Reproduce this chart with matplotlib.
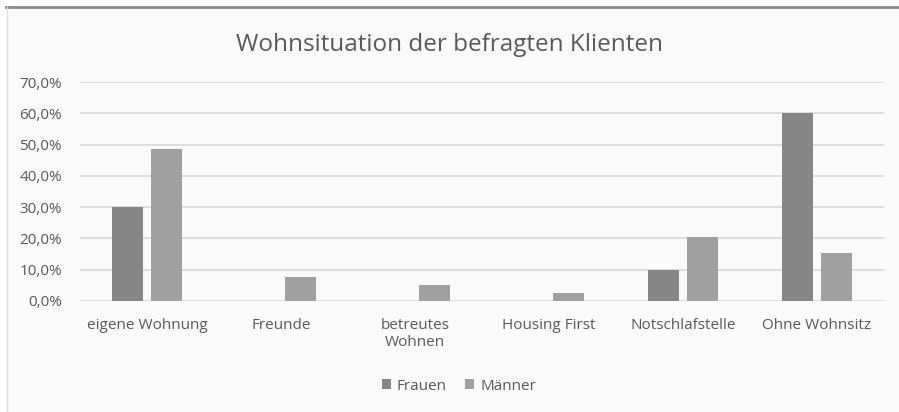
import matplotlib
matplotlib.use("Agg")
import matplotlib.pyplot as plt
import numpy as np
from matplotlib.patches import Rectangle
from matplotlib.lines import Line2D

# Daten aus dem Diagramm (Anteile in %)
kategorien = ["eigene Wohnung", "Freunde", "betreutes\nWohnen", "Housing First",
              "Notschlafstelle", "Ohne Wohnsitz"]
frauen = [30.0, 0.0, 0.0, 0.0, 10.0, 60.0]
maenner = [48.7, 7.7, 5.1, 2.6, 20.5, 15.4]
y_ticks = [0, 10, 20, 30, 40, 50, 60, 70]

TEXT = "#595959"
plt.rcParams["font.family"] = ["Open Sans", "DejaVu Sans"]

fig = plt.figure(figsize=(8.99, 4.12), dpi=100)
fig.patch.set_facecolor("white")

# Diagrammrahmen (Hintergrund + Linien oben/links)
fig.add_artist(Rectangle((6 / 899, 0), 1, 1 - 7 / 412, transform=fig.transFigure,
                         facecolor="#fafafa", edgecolor="none", zorder=-10))
fig.add_artist(Line2D([6 / 899, 1], [1 - 7 / 412] * 2, transform=fig.transFigure,
                      color="#8a8a8a", lw=2, zorder=-5))
fig.add_artist(Line2D([6.5 / 899] * 2, [0, 1 - 7 / 412], transform=fig.transFigure,
                      color="#e0e0e0", lw=1, zorder=-5))

ax = fig.add_axes([80 / 899, 1 - 301 / 412, 804 / 899, 219 / 412])
ax.set_facecolor("none")

x = np.arange(len(kategorien))
breite = 0.23
ax.bar(x - 0.145, frauen, breite, color="#868686", label="Frauen", zorder=3)
ax.bar(x + 0.145, maenner, breite, color="#a0a0a0", label="Männer", zorder=3)

ax.set_xlim(-0.5, len(kategorien) - 0.5)
ax.set_ylim(0, 70)
ax.set_yticks(y_ticks)
ax.set_yticklabels([f"{v:.1f}%".replace(".", ",") for v in y_ticks])
ax.set_xticks(x)
ax.set_xticklabels(kategorien, linespacing=1.2, va="top")
ax.tick_params(axis="both", length=0, colors=TEXT, labelsize=11)
ax.tick_params(axis="y", pad=13)
ax.tick_params(axis="x", pad=12)
ax.grid(axis="y", color="#d9d9d9", lw=1.2, zorder=0)
for s in ax.spines.values():
    s.set_visible(False)

fig.text(0.5, 1 - 45 / 412, "Wohnsituation der befragten Klienten", ha="center",
         va="center", fontsize=17.5, color=TEXT)

leg = ax.legend(loc="center", bbox_to_anchor=(459 / 899, 1 - 386 / 412),
                bbox_transform=fig.transFigure, ncol=2, frameon=False,
                handlelength=0.6, handleheight=0.6, handletextpad=0.4,
                columnspacing=1.2, fontsize=11)
for t in leg.get_texts():
    t.set_color(TEXT)

fig.savefig("out.png", dpi=100)
